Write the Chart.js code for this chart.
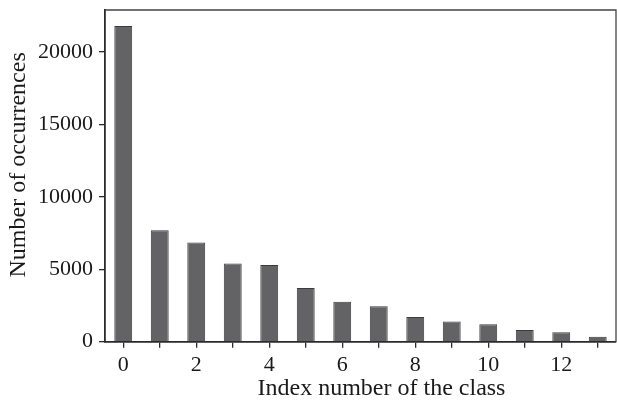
<!DOCTYPE html>
<html>
<head>
<meta charset="utf-8">
<script src="https://cdn.jsdelivr.net/npm/chart.js@4/dist/chart.umd.min.js"></script>
<style>
html,body{margin:0;padding:0;background:#fff;}
#wrap{width:617px;height:405px;position:relative;}
</style>
</head>
<body>
<div id="wrap"><canvas id="c" width="617" height="405"></canvas></div>
<script>
const categories = ['0','1','2','3','4','5','6','7','8','9','10','11','12','13'];
const occurrences = [21800, 7700, 6850, 5400, 5300, 3700, 2750, 2450, 1700, 1400, 1200, 800, 650, 350];
const xTickLabels = ['0','2','4','6','8','10','12'];
const yTickValues = [0, 5000, 10000, 15000, 20000];
const xTitle = 'Index number of the class';
const yTitle = 'Number of occurrences';

const FONT = '"Liberation Serif", "Times New Roman", serif';
const AXIS = '#2a2a2a';

const titlesAndBox = {
  id: 'titlesAndBox',
  afterDraw(chart) {
    const ctx = chart.ctx, a = chart.chartArea;
    ctx.save();
    ctx.strokeStyle = '#444';
    ctx.lineWidth = 1.3;
    ctx.beginPath();
    ctx.moveTo(a.left, a.top);
    ctx.lineTo(a.right, a.top);
    ctx.lineTo(a.right, a.bottom);
    ctx.stroke();
    ctx.fillStyle = '#1a1a1a';
    ctx.font = '24px ' + FONT;
    ctx.textAlign = 'center';
    ctx.textBaseline = 'alphabetic';
    ctx.fillText(xTitle, (a.left + a.right) / 2 + 21, 395);
    ctx.translate(25, (a.top + a.bottom) / 2 - 11);
    ctx.rotate(-Math.PI / 2);
    ctx.fillText(yTitle, 0, 0);
    ctx.restore();
  }
};

new Chart(document.getElementById('c'), {
  type: 'bar',
  data: {
    labels: categories,
    datasets: [{
      data: occurrences,
      backgroundColor: '#636366',
      borderColor: '#3c3c3e',
      borderWidth: 1,
      categoryPercentage: 1,
      barPercentage: 0.49
    }]
  },
  options: {
    responsive: false,
    animation: false,
    devicePixelRatio: 1,
    layout: { padding: { left: 0, top: 10, right: 1, bottom: 0 } },
    plugins: { legend: { display: false }, tooltip: { enabled: false } },
    scales: {
      x: {
        offset: true,
        grid: { display: true, offset: false, drawOnChartArea: false, drawTicks: true, tickLength: 6, color: AXIS, lineWidth: 1.3 },
        border: { display: true, color: AXIS, width: 1.8 },
        ticks: {
          autoSkip: false, maxRotation: 0, padding: 4, color: '#1a1a1a',
          font: { family: FONT, size: 22 },
          callback: function(v) { const l = this.getLabelForValue(v); return xTickLabels.includes(l) ? l : ''; }
        },
        afterFit(s) { s.height = 63.3; s.paddingLeft = 0; s.paddingRight = 0; }
      },
      y: {
        min: 0, max: 22900,
        afterBuildTicks(s) { s.ticks = yTickValues.map(v => ({ value: v })); },
        grid: { display: true, drawOnChartArea: false, drawTicks: true, tickLength: 6, color: AXIS, lineWidth: 1.3 },
        border: { display: true, color: AXIS, width: 1.8 },
        ticks: { padding: 6, color: '#1a1a1a', font: { family: FONT, size: 22 }, callback: v => String(v) },
        afterFit(s) { s.width = 105; s.paddingTop = 0; s.paddingBottom = 0; }
      }
    }
  },
  plugins: [titlesAndBox]
});
</script>
</body>
</html>
